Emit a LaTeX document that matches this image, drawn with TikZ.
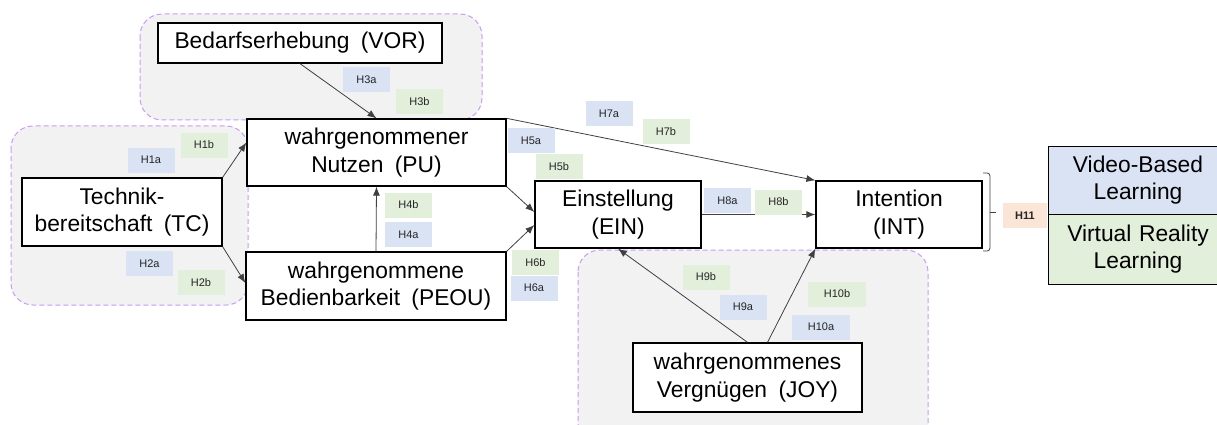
\documentclass[tikz,border=0pt]{standalone}
\usepackage{fontspec}
\setmainfont{Liberation Sans}[WordSpace=1.8]
\usetikzlibrary{arrows.meta}

\definecolor{hgrau}{HTML}{F2F2F2}
\definecolor{lila}{HTML}{CC99FF}
\definecolor{hblau}{HTML}{DAE3F3}
\definecolor{hgruen}{HTML}{E2EFDA}
\definecolor{horange}{HTML}{FBE5D6}
\definecolor{linie}{HTML}{404040}

\tikzset{
    kasten/.style={draw, line width=1.3pt, fill=white, inner sep=0pt, align=center,
        font=\fontsize{22.8}{27.5}\selectfont},
    gruppe/.style={fill=hgrau, draw=lila, line width=1pt, dash pattern=on 5pt off 3pt,
        rounded corners=22pt},
    hyp/.style={inner sep=0pt, minimum width=47pt, minimum height=25pt, text=black!85,
        font=\fontsize{11}{13}\selectfont},
    blau/.style={hyp, fill=hblau},
    gruen/.style={hyp, fill=hgruen},
    pfeil/.style={draw=linie, line width=0.8pt, -{Latex[length=9pt,width=7pt]}}
}

\begin{document}
\begin{tikzpicture}[x=1pt, y=-1pt]
    \useasboundingbox (0,0) rectangle (1217,425);
    \clip (0,0) rectangle (1217,425);
    % Gruppen
    \draw[gruppe] (140,14) rectangle (482,120);
    \draw[gruppe] (11,126) rectangle (248,305);
    \draw[gruppe] (578,250) rectangle (928,450);
    % Konstrukte
    \path node[kasten, minimum width=284pt, minimum height=40pt] (VOR) at (300,43) {Bedarfserhebung (VOR)}
        node[kasten, minimum width=259pt, minimum height=67pt] (PU) at (376.5,152.5) {wahrgenommener\\Nutzen (PU)}
        node[kasten, minimum width=200pt, minimum height=68pt] (TC) at (122,212) {Technik-\\bereitschaft (TC)}
        node[kasten, minimum width=260pt, minimum height=68pt] (PEOU) at (376,286) {wahrgenommene\\Bedienbarkeit (PEOU)}
        node[kasten, minimum width=166pt, minimum height=67pt] (EIN) at (618,214.5) {Einstellung\\(EIN)}
        node[kasten, minimum width=166pt, minimum height=67pt] (INT) at (899,214.5) {Intention\\(INT)}
        node[kasten, minimum width=229pt, minimum height=69pt] (JOY) at (747.5,377.5) {wahrgenommenes\\Vergnügen (JOY)};
    \path node[kasten, fill=hblau, line width=1pt, minimum width=180pt, minimum height=68pt, text width=168pt] (VBL) at (1138,180) {Video-Based\\Learning}
        node[kasten, fill=hgruen, line width=1pt, minimum width=180pt, minimum height=70pt, text width=168pt] (VRL) at (1138,249) {Virtual Reality\\Learning};
    % Pfade
    \draw[pfeil] (VOR.south) -- (PU.north);
    \draw[pfeil] (TC.north east) -- ([yshift=10pt]PU.west);
    \draw[pfeil] (TC.south east) -- ([yshift=3pt]PEOU.west);
    \draw[pfeil] (PEOU.north) -- (PU.south);
    \draw[pfeil] (PU.south east) -- ([yshift=2.5pt]EIN.west);
    \draw[pfeil] (PEOU.north east) -- ([yshift=-10.5pt]EIN.west);
    \draw[pfeil] (PU.north east) -- (INT.north west);
    \draw[pfeil] (EIN.east) -- (INT.west);
    \draw[pfeil] (JOY.north) -- (EIN.south);
    \draw[pfeil] ([xshift=20pt]JOY.north) -- (INT.south west);
    % Klammer
    \draw[linie, line width=0.8pt, rounded corners=3pt] (983,173) -- (990,173) -- (990,251) -- (983,251);
    \draw[linie, line width=0.8pt] (990,212) -- (996,212);
    % Hypothesen
    \path node[blau] (h1a) at (151,160) {H1a}
        node[gruen] (h1b) at (204,145) {H1b}
        node[blau] (h2a) at (149.5,263.5) {H2a}
        node[gruen] (h2b) at (201,282.5) {H2b}
        node[blau] (h3a) at (366.5,79.5) {H3a}
        node[gruen] (h3b) at (419.5,101.5) {H3b}
        node[gruen] (h4b) at (408.5,205) {H4b}
        node[blau] (h4a) at (408.5,234.5) {H4a}
        node[blau] (h5a) at (531,140.5) {H5a}
        node[gruen] (h5b) at (559,166.5) {H5b}
        node[gruen] (h6b) at (535.5,262.5) {H6b}
        node[blau] (h6a) at (534,288) {H6a}
        node[blau] (h7a) at (609,113.5) {H7a}
        node[gruen] (h7b) at (666,131.5) {H7b}
        node[blau] (h8a) at (727.5,200.5) {H8a}
        node[gruen] (h8b) at (778.5,202) {H8b}
        node[gruen] (h9b) at (706,277) {H9b}
        node[blau] (h9a) at (743,307) {H9a}
        node[gruen, minimum width=58pt] (h10b) at (837,294) {H10b}
        node[blau, minimum width=58pt] (h10a) at (821,327) {H10a}
        node[hyp, fill=horange, minimum width=44pt, font=\fontsize{11}{13}\selectfont\bfseries] (h11) at (1025,215.5) {H11};
\end{tikzpicture}
\end{document}
